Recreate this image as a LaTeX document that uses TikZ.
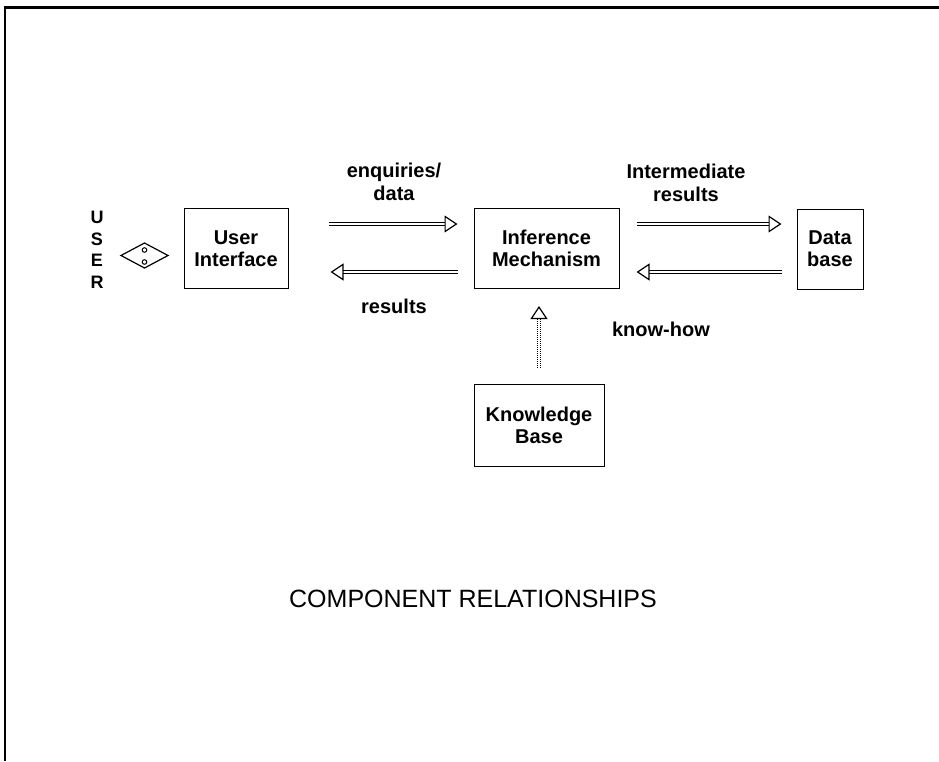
\documentclass[tikz,border=0pt]{standalone}
\usepackage{fontspec}
\setmainfont{Liberation Sans}
\usetikzlibrary{arrows.meta}

\begin{document}
\begin{tikzpicture}[x=1pt,y=-1pt,
  box/.style={draw,line width=1pt,minimum width=#1,minimum height=80pt,align=center,
    font=\bfseries\fontsize{20}{22}\selectfont},
  lbl/.style={align=center,font=\bfseries\fontsize{20}{23}\selectfont},
  flow/.style={double,double distance=2.8pt,line width=1pt,
    -{Triangle[open,fill=white,length=13pt,width=17pt,line width=1.2pt]}}]

\useasboundingbox (0,0) rectangle (939,761);
% frame of the page
\draw[line width=3pt] (5,7) -- (939,7);
\draw[line width=2pt] (5,6) -- (5,761);

\node[align=center,font=\bfseries\fontsize{18}{21.5}\selectfont] (user) at (97,250) {U\\S\\E\\R};
% the two-way link to the user
\draw[line width=1.2pt] (121,255.5) -- (144.5,243) -- (168,255.5) -- (144.5,268) -- cycle;
\draw[line width=1pt] (144.5,250) circle (2.3) (144.5,262) circle (2.3);

\node[box=104pt] (ui) at (236,248.5) {User\\Interface};
\node[box=145pt] (im) at (546.5,248.5) {Inference\\Mechanism};
\node[box=66pt] (db) at (830,249) {Data\\base};
\node[box=130pt,minimum height=82pt] (kb) at (539,425) {Knowledge\\Base};

\draw[flow,shorten <=40pt,shorten >=16pt] (ui.east |- 0,224) -- (im.west |- 0,224);
\draw[flow,shorten <=16pt,shorten >=42pt] (im.west |- 0,272) -- (ui.east |- 0,272);
\draw[flow,shorten <=17pt,shorten >=15pt] (im.east |- 0,224) -- (db.west |- 0,224);
\draw[flow,shorten <=15pt,shorten >=17pt] (db.west |- 0,272) -- (im.east |- 0,272);
\draw[flow,densely dotted,shorten <=16pt,shorten >=17pt] (kb.north) -- (kb.north |- im.south);

\node[lbl] (enq) at (394,182) {enquiries/\\data};
\node[lbl] (res) at (394,306) {results};
\node[lbl] (inter) at (686,183) {Intermediate\\results};
\node[lbl] (know) at (661,329) {know-how};

\node[font=\fontsize{25}{30}\selectfont] (title) at (473,599) {COMPONENT RELATIONSHIPS};

\end{tikzpicture}
\end{document}
